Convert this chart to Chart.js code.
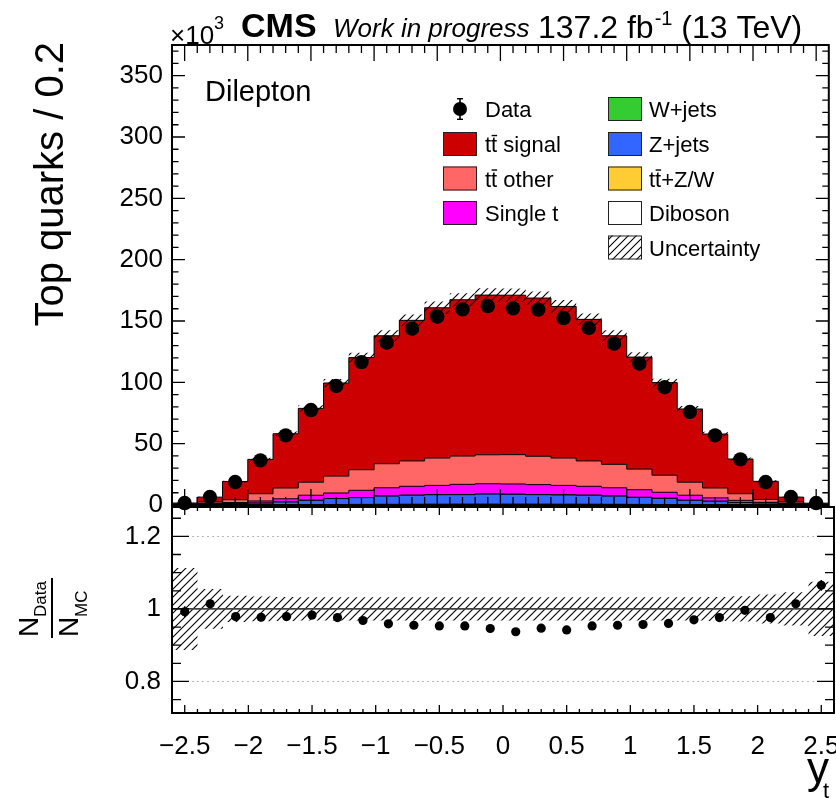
<!DOCTYPE html>
<html><head><meta charset="utf-8">
<script src="https://cdn.jsdelivr.net/npm/chart.js@4.4.1/dist/chart.umd.min.js"></script>
<style>
html,body{margin:0;padding:0;background:#fff;}
#wrap{position:relative;width:836px;height:798px;overflow:hidden;background:#fff;}
#top{position:absolute;left:0;top:0;z-index:2;}
#bot{position:absolute;left:0;top:506px;z-index:1;}
</style></head><body>
<div id="wrap">
<canvas id="bot" width="836" height="292" style="width:836px;height:292px"></canvas>
<canvas id="top" width="836" height="540" style="width:836px;height:540px"></canvas>
</div>
<script>
const FONT = "'Liberation Sans', Arial, Helvetica, sans-serif";

// ---- data (thousands of top quarks per 0.2 bin) ----
const binCenters = [-2.5,-2.3,-2.1,-1.9,-1.7,-1.5,-1.3,-1.1,-0.9,-0.7,-0.5,-0.3,-0.1,0.1,0.3,0.5,0.7,0.9,1.1,1.3,1.5,1.7,1.9,2.1,2.3,2.5];
const dataYields = [1.6,6.5,18.7,36.4,56.8,77.4,97.0,116.5,132.3,143.7,153.5,159.5,162.2,160.3,159.3,152.4,144.3,131.5,115.2,96.0,75.8,56.8,37.2,18.7,6.5,1.6];
const ttSignal  = [0.6,4.0,14.8,28.0,44.2,60.2,75.9,91.4,104.3,114.6,122.5,127.4,130.2,130.0,129.0,123.6,115.4,104.8,91.3,75.5,59.7,44.0,28.3,14.8,4.0,0.5];
const ttOther   = [0.6,1.4,2.3,5.9,8.8,10.6,13.8,16.8,19.6,20.7,22.3,23.1,23.6,23.9,23.1,22.3,20.7,19.1,16.8,13.9,10.6,8.1,5.4,2.3,1.4,0.6];
const singleTop = [0.1,0.2,0.8,1.7,2.6,4.1,4.5,5.9,6.7,7.2,7.5,8.3,8.3,8.3,8.1,7.7,7.2,6.7,6.2,4.9,4.1,2.7,1.8,0.6,0.2,0.1];
const wJets     = [0,0.01,0.01,0.02,0.03,0.04,0.05,0.06,0.07,0.08,0.08,0.09,0.09,0.09,0.09,0.08,0.08,0.07,0.06,0.05,0.04,0.03,0.02,0.01,0.01,0];
const zJets     = [0.28,0.75,1.1,1.4,2.2,3.5,4.8,5.5,6.7,7.3,7.7,7.7,8.2,8.0,7.7,7.5,7.3,6.7,5.7,5.0,3.5,2.8,1.8,1.5,0.75,0.28];
const ttV       = [0.01,0.03,0.06,0.1,0.15,0.2,0.26,0.31,0.36,0.4,0.43,0.45,0.46,0.46,0.45,0.43,0.4,0.36,0.31,0.26,0.2,0.15,0.1,0.06,0.03,0.01];
const diboson   = [0.01,0.02,0.04,0.07,0.1,0.13,0.17,0.2,0.23,0.25,0.27,0.28,0.29,0.29,0.28,0.27,0.25,0.23,0.2,0.17,0.13,0.1,0.07,0.04,0.02,0.01];
const ratioVals = [0.992,1.014,0.979,0.977,0.979,0.983,0.976,0.968,0.959,0.955,0.953,0.953,0.946,0.937,0.947,0.942,0.953,0.955,0.957,0.960,0.970,0.976,0.996,0.976,1.014,1.065];
const ratioErr  = [0.015,0.007,0.004,0.003,0.003,0.003,0.003,0.003,0.003,0.003,0.003,0.003,0.003,0.003,0.003,0.003,0.003,0.003,0.003,0.003,0.003,0.003,0.003,0.004,0.007,0.015];
const uncRel    = [0.113,0.055,0.036,0.034,0.033,0.032,0.032,0.032,0.032,0.032,0.032,0.032,0.032,0.032,0.032,0.032,0.032,0.032,0.032,0.032,0.032,0.033,0.035,0.040,0.046,0.075];
const xTickVals   = [-2.5,-2,-1.5,-1,-0.5,0,0.5,1,1.5,2,2.5];
const xTickLabels = ['\u22122.5','\u22122','\u22121.5','\u22121','\u22120.5','0','0.5','1','1.5','2','2.5'];
const yTicksTop   = [0,50,100,150,200,250,300,350];
const yTicksRatio = [0.8,1,1.2];
const yLabelsRatio = ['0.8','1','1.2'];

const BW = 0.2;
function stepPts(vals){
  const pts = binCenters.map((c,i)=>({x:+(c-BW/2).toFixed(2), y:vals[i]}));
  pts.push({x:+(binCenters[binCenters.length-1]+BW/2).toFixed(2), y:vals[vals.length-1]});
  return pts;
}
function makeHatch(){
  const s=8, c=document.createElement('canvas'); c.width=s; c.height=s;
  const g=c.getContext('2d'); g.strokeStyle='#000'; g.lineWidth=1.1;
  g.beginPath(); g.moveTo(0,s); g.lineTo(s,0); g.moveTo(-1,1); g.lineTo(1,-1); g.moveTo(s-1,s+1); g.lineTo(s+1,s-1); g.stroke();
  return g.createPattern(c,'repeat');
}
const hatch = makeHatch();

const stackDefs = [
  {label:'Diboson', vals:diboson, color:'#ffffff'},
  {label:'ttZW', vals:ttV, color:'#ffcc33'},
  {label:'Z+jets', vals:zJets, color:'#3366ff'},
  {label:'W+jets', vals:wJets, color:'#33cc33'},
  {label:'Single t', vals:singleTop, color:'#ff00ff'},
  {label:'ttother', vals:ttOther, color:'#ff6666'},
  {label:'ttsignal', vals:ttSignal, color:'#cc0000'}
];
let cum = binCenters.map(()=>0);
const stackDatasets = stackDefs.map((d,k)=>{
  cum = cum.map((c,i)=>c+d.vals[i]);
  return {label:d.label, data:stepPts(cum), stepped:true, fill:k===0?'origin':'-1',
    backgroundColor:d.color, borderColor:'#000', borderWidth:1, pointRadius:0, order:10};
});
const mcTotal = cum.slice();
const colorOf = Object.fromEntries(stackDefs.map(d=>[d.label,d.color]));

// ---- drawing helpers ----
function drawFrame(chart, o){
  const {ctx, chartArea:a, scales:{x,y}} = chart;
  ctx.save(); ctx.strokeStyle='#000'; ctx.lineWidth=1.3; ctx.beginPath();
  for(let k=-25;k<=25;k++){
    const px = x.getPixelForValue(k/10), L = (k%5===0)?o.xMaj:o.xMin;
    ctx.moveTo(px,a.bottom); ctx.lineTo(px,a.bottom-L);
    ctx.moveTo(px,a.top); ctx.lineTo(px,a.top+L);
  }
  for(let k=o.yk0;k<=o.yk1;k++){
    const py = y.getPixelForValue(k*o.ystep), L=(k%o.ymaj===0)?o.yMaj:o.yMin;
    if(py<a.top-0.5||py>a.bottom+0.5) continue;
    ctx.moveTo(a.left,py); ctx.lineTo(a.left+L,py);
    ctx.moveTo(a.right,py); ctx.lineTo(a.right-L,py);
  }
  ctx.stroke();
  ctx.lineWidth=2; ctx.strokeRect(a.left,a.top,a.right-a.left,a.bottom-a.top);
  ctx.restore();
}
function drawTT(ctx, x, y, rest, fs){
  ctx.font = `${fs}px ${FONT}`;
  ctx.fillText('tt'+rest, x, y);
  const wt = ctx.measureText('t').width;
  ctx.fillRect(x+wt+0.5, y-fs*0.78, wt*0.9, 1.4);
}
function noPad(s){ s.paddingTop=0; s.paddingBottom=0; s.paddingLeft=0; s.paddingRight=0; }

const legendRows = [109,144,178.5,213,247.5];
const legendCol0 = [
  {kind:'data', text:'Data'},
  {kind:'box', key:'ttsignal', tt:true, text:' signal'},
  {kind:'box', key:'ttother', tt:true, text:' other'},
  {kind:'box', key:'Single t', text:'Single t'}
];
const legendCol1 = [
  {kind:'box', key:'W+jets', text:'W+jets'},
  {kind:'box', key:'Z+jets', text:'Z+jets'},
  {kind:'box', key:'ttZW', tt:true, text:'+Z/W'},
  {kind:'box', key:'Diboson', text:'Diboson'},
  {kind:'hatch', text:'Uncertainty'}
];

const topDecor = {
  id:'topDecor',
  afterDraw(chart){
    const ctx = chart.ctx;
    drawFrame(chart,{xMaj:16,xMin:8,yMaj:13,yMin:6.5,yk0:0,yk1:37,ystep:10,ymaj:5});
    ctx.save(); ctx.fillStyle='#000'; ctx.textAlign='left'; ctx.textBaseline='alphabetic';
    // header
    ctx.font=`26px ${FONT}`; ctx.fillText('\u00d710',170,44);
    ctx.font=`18px ${FONT}`; ctx.fillText('3',214,29);
    ctx.font=`bold 34px ${FONT}`; ctx.fillText('CMS',241,37);
    ctx.font=`italic 26px ${FONT}`; ctx.fillText('Work in progress',333,37);
    let hx=538;
    ctx.font=`32px ${FONT}`; ctx.fillText('137.2 fb',hx,38); hx+=ctx.measureText('137.2 fb').width+1;
    ctx.font=`20px ${FONT}`; ctx.fillText('-1',hx,25); hx+=ctx.measureText('-1').width;
    ctx.font=`32px ${FONT}`; ctx.fillText(' (13 TeV)',hx,38);
    // channel
    ctx.font=`29px ${FONT}`; ctx.fillText('Dilepton',205,101);
    // y title
    ctx.save(); ctx.translate(63,42); ctx.rotate(-Math.PI/2); ctx.textAlign='right';
    ctx.font=`40px ${FONT}`; ctx.fillText('Top quarks / 0.2',0,0); ctx.restore();
    // legend
    const fs=22;
    const drawItem=(it,bx,tx,cy)=>{
      const by=cy-12, bw=34, bh=24;
      if(it.kind==='data'){
        ctx.beginPath(); ctx.arc(bx+17,cy,7,0,Math.PI*2); ctx.fill();
        ctx.fillRect(bx+16.2,cy-11,1.6,22); ctx.fillRect(bx+14,cy-11,6,1.4); ctx.fillRect(bx+14,cy+9.6,6,1.4);
      } else if(it.kind==='box'){
        ctx.fillStyle=colorOf[it.key]; ctx.fillRect(bx,by,bw,bh);
        ctx.strokeStyle='#222'; ctx.lineWidth=1; ctx.strokeRect(bx+0.5,by+0.5,bw-1,bh-1);
      } else {
        ctx.fillStyle='#fff'; ctx.fillRect(bx,by,bw,bh);
        ctx.fillStyle=hatch; ctx.fillRect(bx,by,bw,bh);
        ctx.strokeStyle='#222'; ctx.lineWidth=1; ctx.strokeRect(bx+0.5,by+0.5,bw-1,bh-1);
      }
      ctx.fillStyle='#000';
      if(it.tt) drawTT(ctx,tx,cy+8,it.text,fs);
      else { ctx.font=`${fs}px ${FONT}`; ctx.fillText(it.text,tx,cy+8); }
    };
    legendCol0.forEach((it,i)=>drawItem(it,443,485,legendRows[i]));
    legendCol1.forEach((it,i)=>drawItem(it,608,649,legendRows[i]));
    ctx.restore();
  }
};

const topChart = new Chart(document.getElementById('top'),{
  type:'line',
  data:{datasets:[
    {label:'Data', data:binCenters.map((c,i)=>({x:c,y:dataYields[i]})), showLine:false,
     pointRadius:7.2, pointBackgroundColor:'#000', pointBorderWidth:0, order:0, clip:false},
    {label:'UncUp', data:stepPts(mcTotal.map((v,i)=>v*(1+uncRel[i]))), stepped:true, fill:'+1',
     backgroundColor:hatch, borderWidth:0, borderColor:'rgba(0,0,0,0)', pointRadius:0, order:1},
    {label:'UncDn', data:stepPts(mcTotal.map((v,i)=>v*(1-uncRel[i]))), stepped:true, fill:false,
     borderWidth:0, borderColor:'rgba(0,0,0,0)', pointRadius:0, order:1},
    ...stackDatasets
  ]},
  options:{
    responsive:false, animation:false, devicePixelRatio:1, events:[],
    layout:{padding:{left:0,right:2,top:45,bottom:35}},
    plugins:{legend:{display:false},tooltip:{enabled:false}},
    scales:{
      x:{type:'linear',min:-2.6,max:2.6,display:false},
      y:{type:'linear',min:0,max:375,
         afterFit:s=>{s.width=172; noPad(s);},
         afterBuildTicks:s=>{s.ticks=yTicksTop.map(v=>({value:v}));},
         grid:{display:false,drawTicks:false}, border:{display:false},
         ticks:{padding:9,color:'#000',font:{family:FONT,size:26}}}
    }
  },
  plugins:[topDecor]
});

const botDecor = {
  id:'botDecor',
  beforeDatasetsDraw(chart){
    const {ctx, chartArea:a, scales:{y}} = chart;
    ctx.save();
    ctx.strokeStyle='#bbb'; ctx.lineWidth=1; ctx.setLineDash([2,3]);
    yTicksRatio.filter(v=>v!==1).forEach(v=>{const py=Math.round(y.getPixelForValue(v))+0.5; ctx.beginPath(); ctx.moveTo(a.left,py); ctx.lineTo(a.right,py); ctx.stroke();});
    ctx.restore();
  },
  afterDatasetsDraw(chart){
    const {ctx, chartArea:a, scales:{x,y}} = chart;
    ctx.save();
    ctx.strokeStyle='#444'; ctx.lineWidth=1.6;
    const p1=y.getPixelForValue(1); ctx.beginPath(); ctx.moveTo(a.left,p1); ctx.lineTo(a.right,p1); ctx.stroke();
    ctx.strokeStyle='#000'; ctx.lineWidth=1.5; ctx.beginPath();
    binCenters.forEach((c,i)=>{const px=x.getPixelForValue(c); ctx.moveTo(px,y.getPixelForValue(ratioVals[i]-ratioErr[i])); ctx.lineTo(px,y.getPixelForValue(ratioVals[i]+ratioErr[i]));});
    ctx.stroke();
    ctx.fillStyle='#000';
    binCenters.forEach((c,i)=>{ctx.beginPath(); ctx.arc(x.getPixelForValue(c),y.getPixelForValue(ratioVals[i]),4.6,0,Math.PI*2); ctx.fill();});
    ctx.restore();
  },
  afterDraw(chart){
    const ctx=chart.ctx;
    drawFrame(chart,{xMaj:8,xMin:4,yMaj:17,yMin:9,yk0:14,yk1:26,ystep:0.05,ymaj:4});
    ctx.save(); ctx.fillStyle='#000'; ctx.textBaseline='alphabetic';
    // y title: N_Data / N_MC
    ctx.save(); ctx.translate(52,102); ctx.rotate(-Math.PI/2);
    ctx.fillRect(-30,-1,60,2);
    ctx.font=`28px ${FONT}`; ctx.fillText('N',-29,-14);
    ctx.font=`17px ${FONT}`; ctx.fillText('Data',-9,-6);
    ctx.font=`28px ${FONT}`; ctx.fillText('N',-29,26);
    ctx.font=`17px ${FONT}`; ctx.fillText('MC',-9,35);
    ctx.restore();
    // x title
    ctx.font=`44px ${FONT}`; ctx.fillText('y',807,277);
    ctx.font=`22px ${FONT}`; ctx.fillText('t',823,292);
    ctx.restore();
  }
};

const botChart = new Chart(document.getElementById('bot'),{
  type:'line',
  data:{datasets:[
    {label:'Ratio', data:binCenters.map((c,i)=>({x:c,y:ratioVals[i]})), showLine:false, pointRadius:0, order:0},
    {label:'RUp', data:stepPts(uncRel.map(u=>1+u)), stepped:true, fill:'+1', backgroundColor:hatch,
     borderWidth:0, borderColor:'rgba(0,0,0,0)', pointRadius:0, order:1},
    {label:'RDn', data:stepPts(uncRel.map(u=>1-u)), stepped:true, fill:false,
     borderWidth:0, borderColor:'rgba(0,0,0,0)', pointRadius:0, order:1}
  ]},
  options:{
    responsive:false, animation:false, devicePixelRatio:1, events:[],
    layout:{padding:{left:0,right:2,top:1,bottom:0}},
    plugins:{legend:{display:false},tooltip:{enabled:false}},
    scales:{
      x:{type:'linear',min:-2.6,max:2.6,
         afterFit:s=>{s.height=85; noPad(s);},
         afterBuildTicks:s=>{s.ticks=xTickVals.map(v=>({value:v}));},
         grid:{display:false,drawTicks:false}, border:{display:false},
         ticks:{padding:18,autoSkip:false,maxRotation:0,color:'#000',font:{family:FONT,size:26},
                callback:(v,i)=>xTickLabels[i]}},
      y:{type:'linear',min:0.713,max:1.281,
         afterFit:s=>{s.width=172; noPad(s);},
         afterBuildTicks:s=>{s.ticks=yTicksRatio.map(v=>({value:v}));},
         grid:{display:false,drawTicks:false}, border:{display:false},
         ticks:{padding:11,color:'#000',font:{family:FONT,size:26},callback:(v,i)=>yLabelsRatio[i]}}
    }
  },
  plugins:[botDecor]
});
</script>
</body></html>
